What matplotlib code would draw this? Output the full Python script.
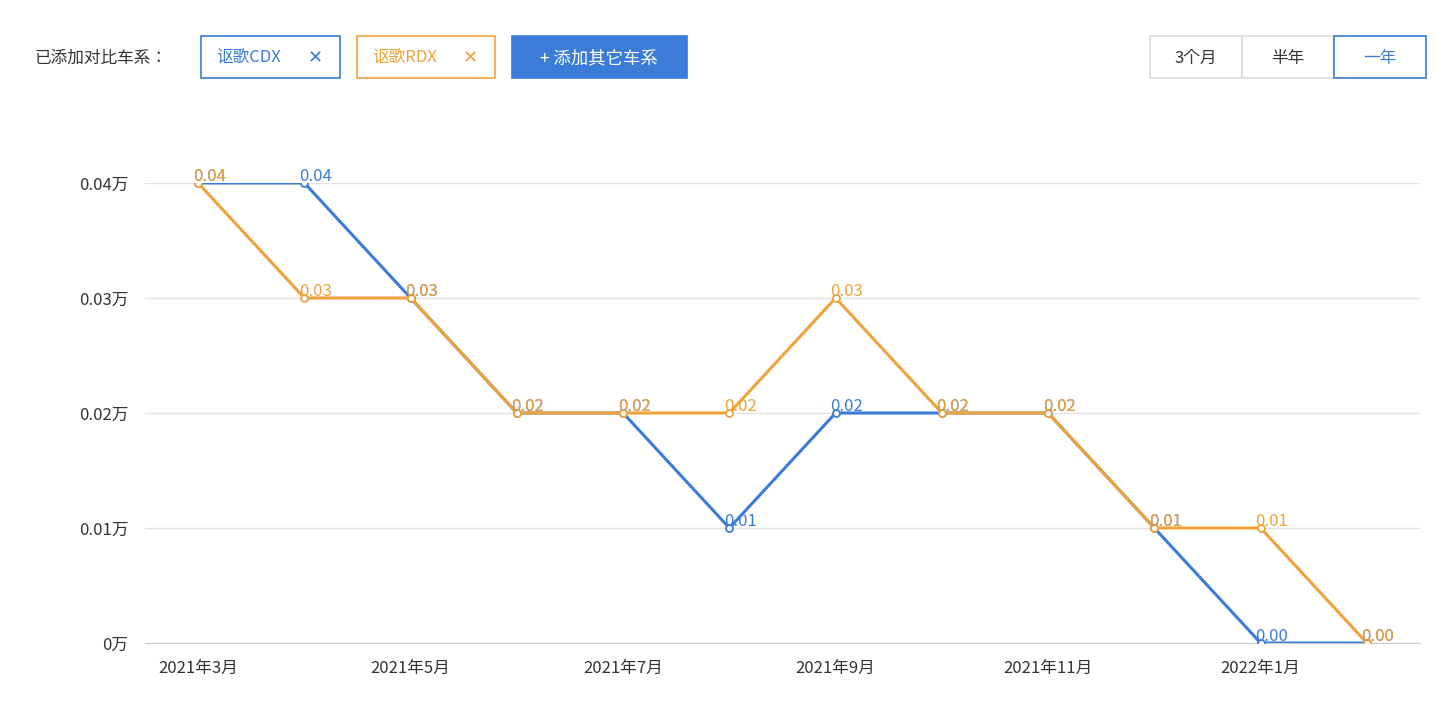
import matplotlib
matplotlib.use("Agg")
import matplotlib.pyplot as plt
from matplotlib.patches import Rectangle
from matplotlib import font_manager as fm

cjk = [f.name for f in fm.fontManager.ttflist if "CJK" in f.name]
pref = [n for n in ["Noto Sans CJK SC", "Noto Sans CJK JP", "Noto Sans CJK TC", "Noto Sans CJK KR"] if n in cjk] or cjk
plt.rcParams["font.family"] = "sans-serif"
plt.rcParams["font.sans-serif"] = pref + ["DejaVu Sans"]

months = ["2021年3月","2021年4月","2021年5月","2021年6月","2021年7月","2021年8月",
          "2021年9月","2021年10月","2021年11月","2021年12月","2022年1月","2022年2月"]
cdx = [0.04,0.04,0.03,0.02,0.02,0.01,0.02,0.02,0.02,0.01,0.00,0.00]
rdx = [0.04,0.03,0.03,0.02,0.02,0.02,0.03,0.02,0.02,0.01,0.01,0.00]
yticks = [0, 0.01, 0.02, 0.03, 0.04]
ylabels = ["0万","0.01万","0.02万","0.03万","0.04万"]

BLUE = "#3a7cd8"
ORANGE = "#f0a23a"

fig = plt.figure(figsize=(14.56, 7.18), dpi=100)
ax = fig.add_axes([145/1456, 75/718, 1275/1456, 460/718])
x = list(range(len(months)))
for vals, c in [(cdx, BLUE), (rdx, ORANGE)]:
    ax.plot(x, vals, color=c, lw=2.2, marker="o", ms=5, mfc="white", mec=c, mew=1.3, zorder=3)
    for xi, v in zip(x, vals):
        ax.text(xi - 0.05, v - 0.0002, f"{v:.2f}", color=c, fontsize=12, ha="left", va="bottom", zorder=4)
ax.set_xlim(-0.5, 11.5)
ax.set_ylim(0, 0.04)
ax.set_yticks(yticks)
ax.set_yticklabels(ylabels, fontsize=12, color="#333333")
ax.set_xticks(x[::2])
ax.set_xticklabels(months[::2], fontsize=12, color="#333333")
ax.tick_params(length=0, pad=12)
ax.grid(axis="y", color="#e3e3e3", lw=1)
for s in ["top", "right", "left"]:
    ax.spines[s].set_visible(False)
ax.spines["bottom"].set_color("#cccccc")

def px(xp, yp):
    return xp/1456, 1 - yp/718

def box(x0, y0, w, h, ec, fc="white", lw=1.2):
    r = Rectangle(px(x0, y0+h), w/1456, h/718, transform=fig.transFigure,
                  ec=ec, fc=fc, lw=lw)
    fig.patches.append(r)

fig.text(*px(34, 58), "已添加对比车系：", fontsize=12, color="#333333", va="center")
box(201, 36, 139, 42, BLUE)
fig.text(*px(216, 58), "讴歌CDX", fontsize=12, color=BLUE, va="center")
fig.text(*px(308, 58), "✕", fontsize=13, color=BLUE, va="center", fontfamily="DejaVu Sans")
box(357, 36, 138, 42, ORANGE)
fig.text(*px(372, 58), "讴歌RDX", fontsize=12, color=ORANGE, va="center")
fig.text(*px(463, 58), "✕", fontsize=13, color=ORANGE, va="center", fontfamily="DejaVu Sans")
box(512, 36, 175, 42, BLUE, fc=BLUE)
fig.text(*px(599, 58), "+ 添加其它车系", fontsize=12.5, color="white", va="center", ha="center")
box(1150, 36, 92, 42, "#dddddd")
fig.text(*px(1196, 58), "3个月", fontsize=12, color="#333333", va="center", ha="center")
box(1242, 36, 92, 42, "#dddddd")
fig.text(*px(1288, 58), "半年", fontsize=12, color="#333333", va="center", ha="center")
box(1334, 36, 92, 42, BLUE)
fig.text(*px(1380, 58), "一年", fontsize=12, color=BLUE, va="center", ha="center")

fig.savefig("out.png", dpi=100)
